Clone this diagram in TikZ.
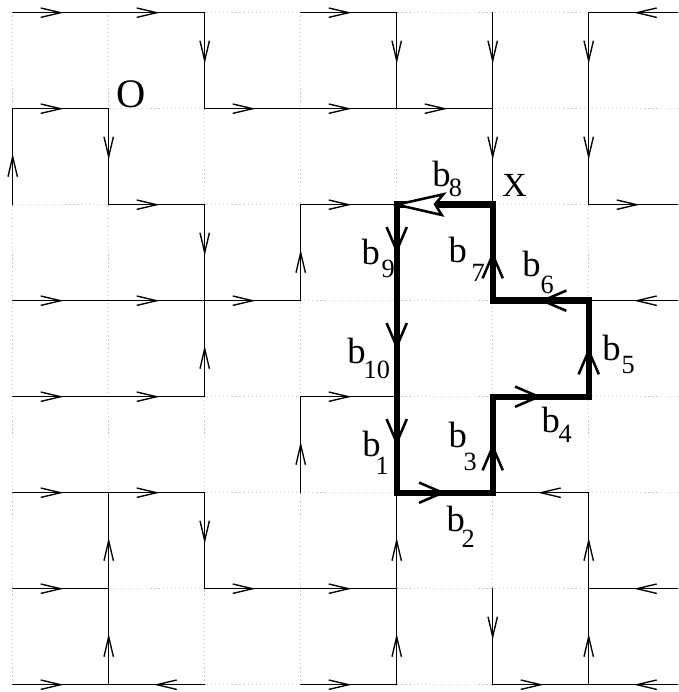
\documentclass[tikz,border=0pt]{standalone}
\usepackage{fontspec}
\setmainfont{Liberation Serif}
\usetikzlibrary{decorations.markings}
\newdimen\pxd \pxd=0.2964pt
\newcommand\bsub[3]{\fontsize{10.85}{13}\selectfont b\kern#2\pxd\raisebox{-#3\pxd}{\fontsize{7.8}{9}\selectfont #1}}
\begin{document}
\begin{tikzpicture}[x=1cm,y=-1cm,
  griddots/.style={draw=black!22, line width=0.35pt, dash pattern=on 0.35pt off 0.85pt},
  thinl/.style={line width=0.4pt, line cap=round},
  tarr/.style={thinl, postaction={decorate, decoration={markings,
     mark=at position 0.5 with {\draw[line width=0.4pt, line cap=butt, line join=miter] (-5.93pt,1.4pt) -- (0pt,0pt) -- (-5.93pt,-1.4pt);}}}},
  thickl/.style={line width=1.9pt, line cap=rect},
  barr/.style={thickl, postaction={decorate, decoration={markings,
     mark=at position 0.5 with {\draw[line width=0.75pt, line cap=butt, line join=miter] (-7.6pt,3.0pt) -- (-0.6pt,0pt) -- (-7.6pt,-3.0pt);}}}},
  bighead/.style={draw=black, fill=white, line width=0.75pt, line join=miter},
  lab/.style={anchor=base west, inner sep=0pt}]
\useasboundingbox (-0.1323,-0.1323) rectangle (6.9302,7.0760);
\clip (-0.1323,-0.1323) rectangle (6.9302,7.0760);
% grid points
\foreach \i in {0,...,7}{\foreach \j in {0,...,7}{\coordinate (p-\i-\j) at (\i,\j);}}
% dotted lattice
\draw[griddots] (p-0-0) grid (p-7-7);
% thin arrowed edges (from/to)
\foreach \a/\b/\c/\d in {
  0/0/1/0, 1/0/2/0, 3/0/4/0, 7/0/6/0,
  0/1/1/1, 2/1/3/1, 3/1/4/1, 4/1/5/1,
  1/2/2/2, 3/2/4/2, 6/2/7/2,
  0/3/1/3, 1/3/2/3, 2/3/3/3, 7/3/6/3,
  0/4/1/4, 1/4/2/4, 3/4/4/4,
  0/5/1/5, 1/5/2/5, 6/5/5/5,
  0/6/1/6, 2/6/3/6, 3/6/4/6, 7/6/6/6,
  0/7/1/7, 2/7/1/7, 3/7/4/7, 5/7/6/7, 7/7/6/7,
  0/2/0/1,
  1/1/1/2, 1/6/1/5, 1/7/1/6,
  2/0/2/1, 2/2/2/3, 2/4/2/3, 2/5/2/6,
  3/3/3/2, 3/5/3/4,
  4/0/4/1, 4/7/4/6, 4/6/4/5,
  5/0/5/1, 5/1/5/2, 5/6/5/7,
  6/0/6/1, 6/1/6/2, 6/7/6/6, 6/6/6/5}
  {\draw[tarr] (p-\a-\b) -- (p-\c-\d);}
% thick boundary path b1..b10
\draw[thickl] (p-5-2) -- (p-4-2);
\draw[barr] (p-4-2) -- (p-4-3);
\draw[barr] (p-4-3) -- (p-4-4);
\draw[barr] (p-4-4) -- (p-4-5);
\draw[barr] (p-4-5) -- (p-5-5);
\draw[barr] (p-5-5) -- (p-5-4);
\draw[barr] (p-5-4) -- (p-6-4);
\draw[barr] (p-6-4) -- (p-6-3);
\draw[barr] (p-6-3) -- (p-5-3);
\draw[barr] (p-5-3) -- (p-5-2);
% big open head of b8
\draw[bighead] (p-4-2) -- ++(0.486,-0.109) -- ++(-0.086,0.105) -- ++(0.069,0.111) -- cycle;
% labels
\node[lab, font=\fontsize{12}{14}\selectfont] (O) at (1.071,0.990) {O};
\node[lab, font=\fontsize{10}{12}\selectfont] (X) at (5.094,1.917) {X};
\node[lab] (lb8) at (4.3646,1.8125) {\bsub{8}{-1.7}{10}};
\node[lab] (lb9) at (3.628,2.628) {\bsub{9}{1.7}{13}};
\node[lab] (lb7) at (4.534,2.607) {\bsub{7}{4.7}{19}};
\node[lab] (lb6) at (5.302,2.750) {\bsub{6}{0}{16.6}};
\node[lab] (lb10) at (3.479,3.649) {\bsub{10}{-2}{15}};
\node[lab] (lb5) at (6.135,3.618) {\bsub{5}{1}{13}};
\node[lab] (lb4) at (5.503,4.378) {\bsub{4}{-1.3}{10}};
\node[lab] (lb3) at (4.534,4.524) {\bsub{3}{-3.3}{23}};
\node[lab] (lb1) at (3.635,4.628) {\bsub{1}{-5}{18}};
\node[lab] (lb2) at (4.514,5.399) {\bsub{2}{-3.3}{16}};
\end{tikzpicture}
\end{document}
